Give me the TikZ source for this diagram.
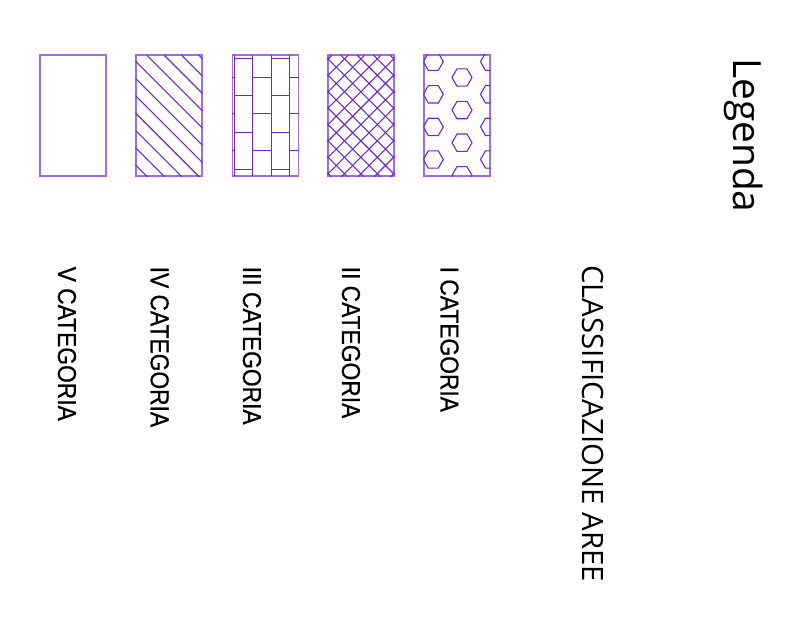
\documentclass[tikz,border=0pt]{standalone}
\usepackage{fontspec}
\newfontfamily\titlefont{Open Sans}
\newfontfamily\catfont[FakeStretch=0.88,FakeBold=0.6]{Liberation Sans}
\definecolor{boxline}{RGB}{160,110,228}
\definecolor{hatchcol}{RGB}{110,40,210}

\begin{document}
\begin{tikzpicture}[x=1bp, y=-1bp,
    catbox/.style={draw=boxline, line width=1.1bp, minimum width=66bp, minimum height=121bp, inner sep=0pt},
    hatchline/.style={draw=hatchcol, line width=1.1bp},
    catlabel/.style={rotate=-90, anchor=base west, inner sep=0pt, font=\catfont\fontsize{26}{26}\selectfont},
    titlelabel/.style={rotate=-90, anchor=base west, inner sep=0pt, font=\titlefont\fontsize{29.5}{29.5}\selectfont},
    legendlabel/.style={rotate=-90, anchor=base west, inner sep=0pt, font=\titlefont\fontsize{39}{39}\selectfont}]
  \useasboundingbox (0,0) rectangle (795,631);

  % riquadri
  \node[catbox] (box5) at (73,115.5) {};
  \node[catbox] (box4) at (169,115.5) {};
  \node[catbox] (box3) at (265.5,115.5) {};
  \node[catbox] (box2) at (361,115.5) {};
  \node[catbox] (box1) at (457,115.5) {};

  % IV: tratteggio obliquo
  \begin{scope}
    \clip (box4.south west) rectangle (box4.north east);
    \foreach \k in {-8,...,4}
      \draw[hatchline] (146.7+17.3*\k,55) -- ++(140,140);
  \end{scope}

  % III: mattoni
  \begin{scope}
    \clip (box3.south west) rectangle (box3.north east);
    \foreach \k in {0,...,3}
      \draw[hatchline] (234.5+18.4*\k,55) -- (234.5+18.4*\k,176);
    \foreach \k/\off in {-1/1,0/0,1/1,2/0,3/1}
      \foreach \j in {-1,...,3}
        \draw[hatchline] (234.5+18.4*\k,58.7+36.8*\j+18.4*\off) -- ++(18.4,0);
  \end{scope}

  % II: reticolo incrociato
  \begin{scope}
    \clip (box2.south west) rectangle (box2.north east);
    \foreach \k in {-6,...,7} {
      \draw[hatchline] (291.4+16.4*\k,55) -- ++(130,130);
      \draw[hatchline] (414+16.4*\k,55) -- ++(-130,130);
    }
  \end{scope}

  % I: esagoni
  \begin{scope}
    \clip (box1.south west) rectangle (box1.north east);
    \foreach \cx/\cy in {433.3/61.7,490.5/61.7,462/77.5}
      \foreach \j in {0,...,3}
        \draw[hatchline, shift={(\cx,\cy+32.6*\j)}]
          (0:10) -- (60:10) -- (120:10) -- (180:10) -- (240:10) -- (300:10) -- cycle;
  \end{scope}

  % testi
  \node[catlabel] (lab5) at (58,266.5) {V CATEGORIA};
  \node[catlabel] (lab4) at (150.7,266.5) {IV CATEGORIA};
  \node[catlabel] (lab3) at (243,266.5) {III CATEGORIA};
  \node[catlabel] (lab2) at (342,266.5) {II CATEGORIA};
  \node[catlabel] (lab1) at (440.5,266.5) {I CATEGORIA};
  \node[titlelabel] (classif) at (582,265) {CLASSIFICAZIONE AREE};
  \node[legendlabel] (legenda) at (733,58) {Legenda};
\end{tikzpicture}
\end{document}
